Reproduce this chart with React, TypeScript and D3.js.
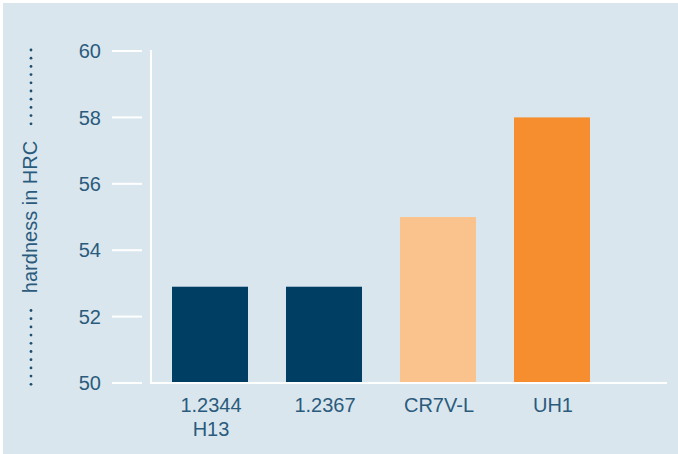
import { useEffect, useRef } from "react";
import * as d3 from "d3";

const categories = ["1.2344\nH13", "1.2367", "CR7V-L", "UH1"];
const hardness = [52.9, 52.9, 55, 58];
const barColors = ["#003f63", "#003f63", "#fac38e", "#f68d2e"];
const yTicks = [50, 52, 54, 56, 58, 60];

const W = 678;
const H = 454;
const textColor = "#2a5b7c";

export default function App() {
  const ref = useRef<SVGSVGElement | null>(null);

  useEffect(() => {
    if (!ref.current) return;
    const svg = d3.select(ref.current);
    svg.selectAll("*").remove();

    const font = "Liberation Sans, Arial, sans-serif";

    svg.append("rect").attr("x", 3).attr("y", 3).attr("width", W - 3).attr("height", H - 3).attr("fill", "#dae6ee");

    const y = d3.scaleLinear().domain([50, 60]).range([383, 51]);
    // 4 bands of 114px starting a bit right of the y axis
    const x = d3
      .scaleBand<string>()
      .domain(categories)
      .range([153, 153 + 114 * 4])
      .paddingInner(1 / 3)
      .paddingOuter(1 / 6);

    // bars
    svg
      .append("g")
      .selectAll("rect")
      .data(hardness)
      .join("rect")
      .attr("x", (_d, i) => x(categories[i])!)
      .attr("width", x.bandwidth())
      .attr("y", (d) => y(d))
      .attr("height", (d) => y(50) - y(d))
      .attr("fill", (_d, i) => barColors[i]);

    // axes lines
    svg.append("line").attr("x1", 151).attr("x2", 151).attr("y1", y(60) - 1).attr("y2", y(50) + 1)
      .attr("stroke", "#fff").attr("stroke-width", 2);
    svg.append("line").attr("x1", 150).attr("x2", 667).attr("y1", y(50)).attr("y2", y(50))
      .attr("stroke", "#fff").attr("stroke-width", 2);

    // y ticks
    const tg = svg.append("g").selectAll("g").data(yTicks).join("g")
      .attr("transform", (d) => `translate(0,${y(d)})`);
    tg.append("line").attr("x1", 112).attr("x2", 142).attr("stroke", "#fff").attr("stroke-width", 2);
    tg.append("text")
      .attr("x", 101)
      .attr("dy", "0.36em")
      .attr("text-anchor", "end")
      .attr("fill", textColor)
      .style("font", `20px ${font}`)
      .text((d) => d);

    // category labels
    const lg = svg.append("g").selectAll("text").data(categories).join("text")
      .attr("text-anchor", "middle")
      .attr("fill", textColor)
      .style("font", `20px ${font}`);
    lg.each(function (d) {
      const t = d3.select(this);
      const cx = x(d)! + x.bandwidth() / 2 + 1;
      d.split("\n").forEach((line, k) => {
        t.append("tspan").attr("x", cx).attr("y", 412 + k * 23.5).text(line);
      });
    });

    // axis title with dotted leaders
    svg.append("text")
      .attr("transform", "translate(37,217) rotate(-90)")
      .attr("text-anchor", "middle")
      .attr("fill", textColor)
      .style("font", `20px ${font}`)
      .text("hardness in HRC");

    const dotsTop = d3.range(10).map((i) => 50 + i * 8.2);
    const dotsBottom = d3.range(10).map((i) => 310.5 + i * 8.2);
    svg.append("g").selectAll("circle").data([...dotsTop, ...dotsBottom]).join("circle")
      .attr("cx", 31)
      .attr("cy", (d) => d)
      .attr("r", 1.4)
      .attr("fill", "#1d4f72");
  }, []);

  return (
    <svg
      ref={ref}
      width={W}
      height={H}
      style={{ position: "absolute", left: 0, top: 0, display: "block" }}
    />
  );
}
